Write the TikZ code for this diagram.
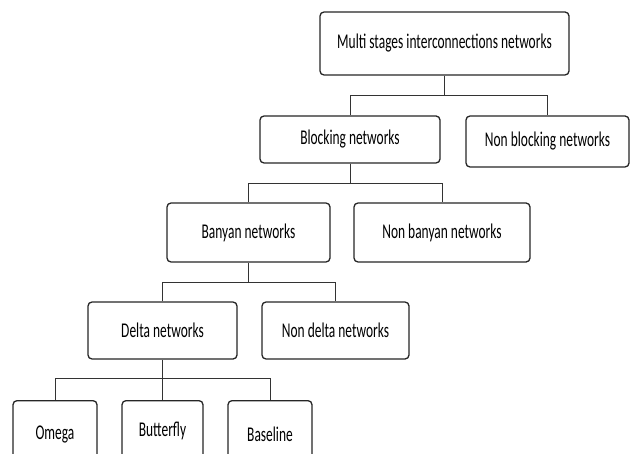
\documentclass[tikz,border=0pt]{standalone}
\usepackage{fontspec}
\setmainfont{Carlito}
\begin{document}
\begin{tikzpicture}[x=1pt,y=-1pt,
  box/.style={draw=black!85, line width=1.3pt, rounded corners=4pt, inner sep=0pt, fill=white},
  lbl/.style={font=\fontsize{21}{24}\selectfont},
  link/.style={draw=black!80, line width=1pt}]
\useasboundingbox (0,0) rectangle (631,454);
\newcommand{\sq}[1]{\scalebox{0.64}[1]{#1}}
% boxes
\node[box, minimum width=249pt, minimum height=63pt, lbl] (top) at (444.5,43.5) {\sq{Multi stages interconnections networks}};
\node[box, minimum width=180pt, minimum height=47pt, lbl] (blk) at (350,139.5) {\sq{Blocking networks}};
\node[box, minimum width=163pt, minimum height=51pt, lbl] (nblk) at (547.5,141.5) {\sq{Non blocking networks}};
\node[box, minimum width=163pt, minimum height=59pt, lbl] (bany) at (248.5,232.5) {\sq{Banyan networks}};
\node[box, minimum width=176pt, minimum height=59pt, lbl] (nbany) at (442,232.5) {\sq{Non banyan networks}};
\node[box, minimum width=149pt, minimum height=57pt, lbl] (delta) at (162.5,330.5) {\sq{Delta networks}};
\node[box, minimum width=147pt, minimum height=57pt, lbl] (ndelta) at (335.5,330.5) {\sq{Non delta networks}};
\node[box, minimum width=84pt, minimum height=70pt, lbl, anchor=north] (omega) at (55,400) {};
\node[lbl] (omegat) at (55,434) {\sq{Omega}};
\node[box, minimum width=81pt, minimum height=70pt, lbl, anchor=north] (bfly) at (162.5,400) {};
\node[lbl] (bflyt) at (162.5,431) {\sq{Butterfly}};
\node[box, minimum width=84pt, minimum height=70pt, lbl, anchor=north] (base) at (270,400) {};
\node[lbl] (baset) at (270,434) {\sq{Baseline}};
% connectors
\draw[link] (top.south) -- ++(0,20) coordinate (j1);
\draw[link] (blk.north) |- (j1) -| (nblk.north);
\draw[link] (blk.south) -- ++(0,20) coordinate (j2);
\draw[link] (bany.north) |- (j2) -| (nbany.north);
\draw[link] (bany.south) -- ++(0,20) coordinate (j3);
\draw[link] (delta.north) |- (j3) -| (ndelta.north);
\draw[link] (delta.south) -- ++(0,19) coordinate (j4);
\draw[link] (omega.north) |- (j4) -| (base.north);
\draw[link] (j4) -- (bfly.north);
\end{tikzpicture}
\end{document}
